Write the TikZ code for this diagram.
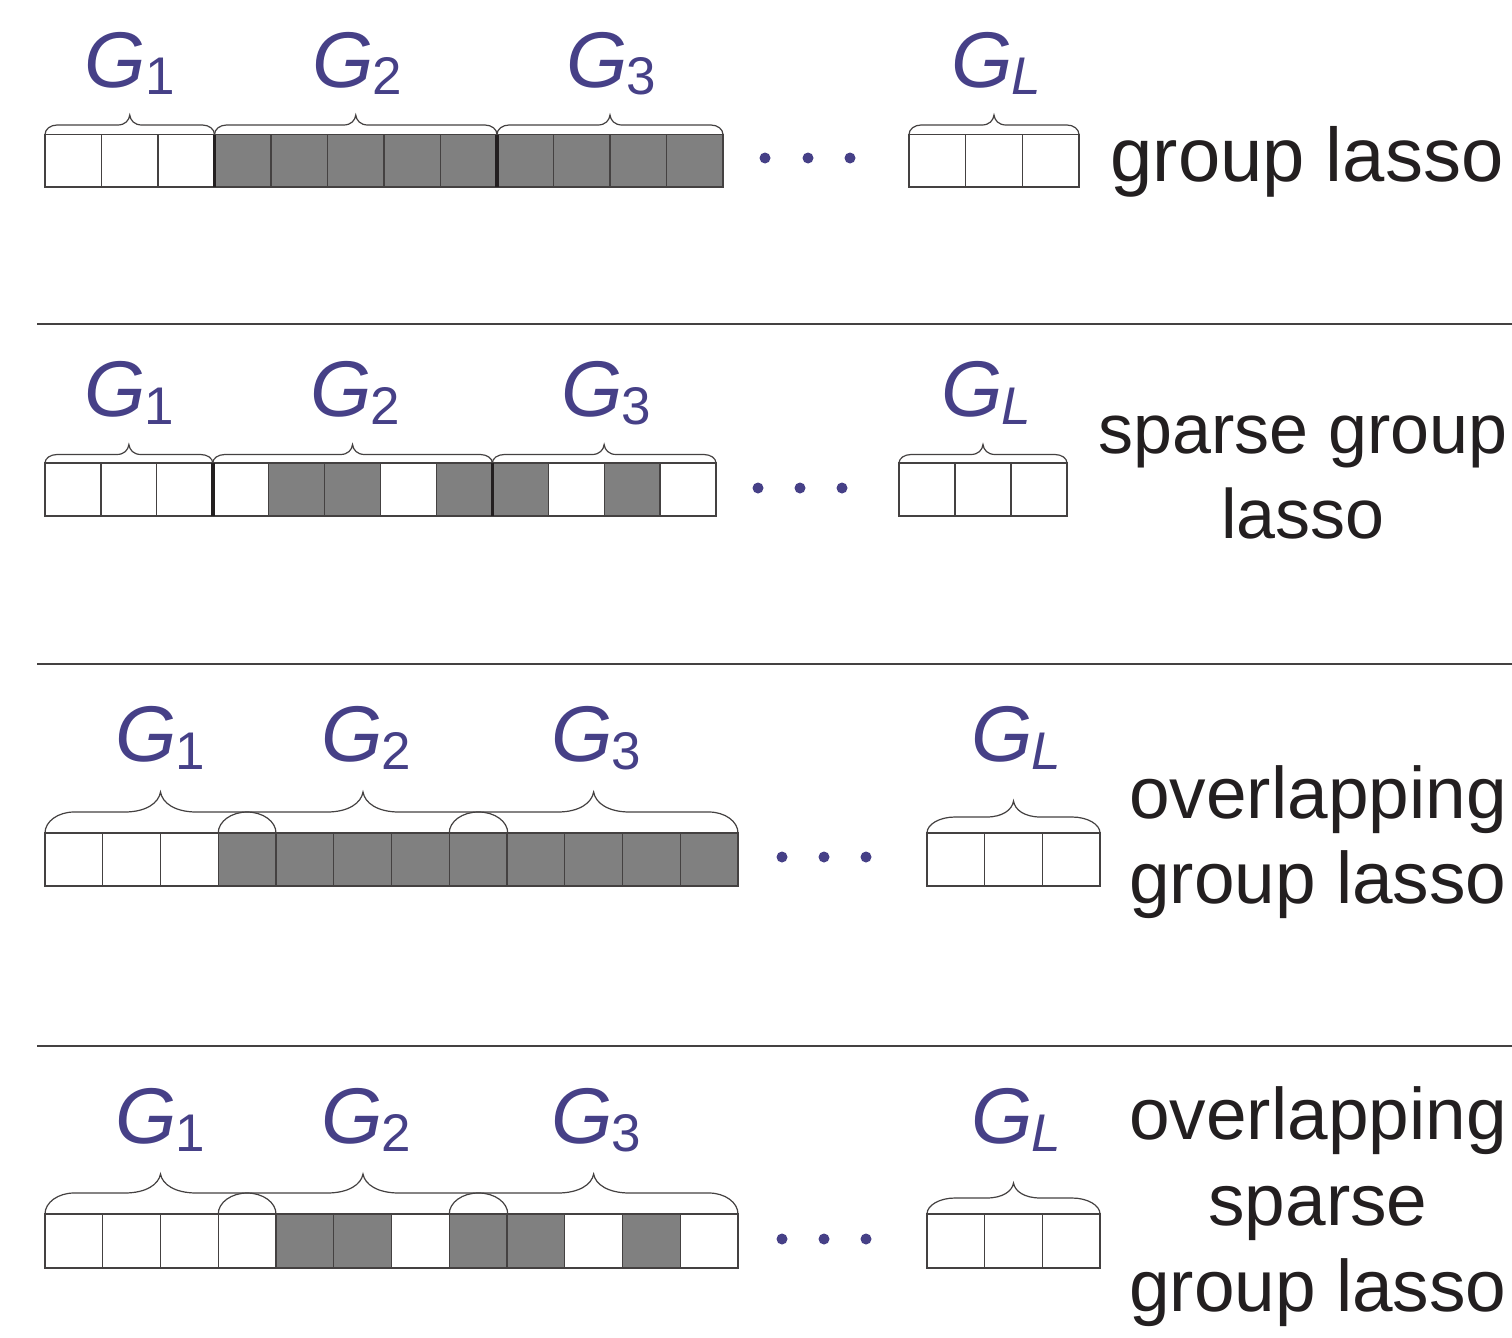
\documentclass[tikz,border=0pt]{standalone}
\usepackage{fontspec}
\setmainfont{Liberation Sans}
\definecolor{glab}{RGB}{70,64,135}
\definecolor{ink}{RGB}{35,31,32}
\definecolor{gfill}{RGB}{128,128,128}
\newcommand\Gl[1]{G\kern-1pt\raisebox{-8pt}{\fontsize{53}{53}\selectfont\upshape #1}}
\newcommand\mybrace[7]{%
  \pgfmathsetmacro\bxm{(#1+#2)/2}%
  \pgfmathsetmacro\bh{#3-#5}%
  \pgfmathsetmacro\bt{#3-#5-#7}%
  \draw[bracestyle] (#1,#3) .. controls (#1,#3-0.55*#5) and (#1+0.45*#4,\bh) .. (#1+#4,\bh)
    -- (\bxm-#6,\bh) .. controls (\bxm-0.4*#6,\bh) and (\bxm-0.05*#6,\bh-0.45*#7) .. (\bxm,\bt)
    .. controls (\bxm+0.05*#6,\bh-0.45*#7) and (\bxm+0.4*#6,\bh) .. (\bxm+#6,\bh)
    -- (#2-#4,\bh) .. controls (#2-0.45*#4,\bh) and (#2,#3-0.55*#5) .. (#2,#3);
}
\newcommand\cellrow[6]{%
  \foreach \i/\f in {#6} {
    \node[cell, fill=\f, minimum width=#3pt, minimum height={(#5-#4)*1pt}] (#1\i) at ({#2+#3*(\i+0.5)},{(#4+#5)/2}) {};
  }%
}
\begin{document}
\begin{tikzpicture}[x=1pt,y=-1pt,
  cell/.style={rectangle, draw=ink!85, line width=1.2pt, inner sep=0pt, outer sep=0pt},
  bracestyle/.style={draw=ink!85, line width=1.2pt},
  thickbar/.style={draw=ink, line width=3.5pt},
  rule/.style={draw=ink!85, line width=1.3pt},
  dot/.style={circle, fill=glab, inner sep=0pt, minimum size=11pt},
  glabel/.style={text=glab, anchor=base, inner sep=0pt, font=\fontsize{79}{79}\selectfont\itshape},
  methA/.style={text=ink, anchor=base, inner sep=0pt, font=\fontsize{76}{76}\selectfont},
  methB/.style={text=ink, anchor=base, inner sep=0pt, font=\fontsize{70}{70}\selectfont},
  methC/.style={text=ink, anchor=base, inner sep=0pt, font=\fontsize{73}{73}\selectfont}
]
\fill[white] (0,0) rectangle (1512,1338);
\useasboundingbox (0,0) rectangle (1512,1338);

% ---------- row 1: group lasso
\cellrow{ra}{45}{56.5}{134.5}{187}{0/white,1/white,2/white,3/gfill,4/gfill,5/gfill,6/gfill,7/gfill,8/gfill,9/gfill,10/gfill,11/gfill}
\cellrow{rae}{909}{56.67}{134.5}{187}{0/white,1/white,2/white}
\draw[thickbar] (ra2.north east) -- (ra2.south east);
\draw[thickbar] (ra7.north east) -- (ra7.south east);
\mybrace{45}{214.5}{134.5}{12}{9.5}{12}{10}
\mybrace{214.5}{497}{134.5}{12}{9.5}{12}{10}
\mybrace{497}{723}{134.5}{12}{9.5}{12}{10}
\mybrace{909}{1079}{134.5}{12}{9.5}{12}{10}
\node[glabel] (la1) at (129.75,87) {\Gl{1}};
\node[glabel] (la2) at (357,87) {\Gl{2}};
\node[glabel] (la3) at (611,87) {\Gl{3}};
\node[glabel] (laL) at (996,87) {\Gl{\itshape L}};
\foreach \k/\xx in {1/765,2/808,3/850} \node[dot] (da\k) at (\xx,158) {};
\node[methA] (ta) at (1307,181) {group lasso};

\draw[rule] (37,324) -- (1512,324);

% ---------- row 2: sparse group lasso
\cellrow{rb}{45}{55.917}{463}{516}{0/white,1/white,2/white,3/white,4/gfill,5/gfill,6/white,7/gfill,8/gfill,9/white,10/gfill,11/white}
\cellrow{rbe}{899}{56}{463}{516}{0/white,1/white,2/white}
\draw[thickbar] (rb2.north east) -- (rb2.south east);
\draw[thickbar] (rb7.north east) -- (rb7.south east);
\mybrace{45}{212.75}{463}{12}{8.5}{12}{10}
\mybrace{212.75}{492.3}{463}{12}{8.5}{12}{10}
\mybrace{492.3}{716}{463}{12}{8.5}{12}{10}
\mybrace{899}{1067}{463}{12}{8.5}{12}{10}
\node[glabel] (lb1) at (129,416) {\Gl{1}};
\node[glabel] (lb2) at (355,416) {\Gl{2}};
\node[glabel] (lb3) at (606,416) {\Gl{3}};
\node[glabel] (lbL) at (986,416) {\Gl{\itshape L}};
\foreach \k/\xx in {1/758,2/800,3/842} \node[dot] (db\k) at (\xx,488) {};
\node[methB] (tb1) at (1303,453) {sparse group};
\node[methB] (tb2) at (1303,538) {lasso};

\draw[rule] (37,664) -- (1512,664);

% ---------- row 3: overlapping group lasso
\cellrow{rc}{45}{57.75}{833}{886}{0/white,1/white,2/white,3/gfill,4/gfill,5/gfill,6/gfill,7/gfill,8/gfill,9/gfill,10/gfill,11/gfill}
\cellrow{rce}{927}{57.67}{833}{886}{0/white,1/white,2/white}
\mybrace{45}{276}{833}{29}{21}{36}{20}
\mybrace{218.25}{507.75}{833}{29}{21}{36}{20}
\mybrace{449.25}{738}{833}{29}{21}{36}{20}
\mybrace{927}{1100}{833}{28}{16}{27}{16}
\node[glabel] (lc1) at (160.5,761) {\Gl{1}};
\node[glabel] (lc2) at (366,761) {\Gl{2}};
\node[glabel] (lc3) at (596,761) {\Gl{3}};
\node[glabel] (lcL) at (1016,761) {\Gl{\itshape L}};
\foreach \k/\xx in {1/782,2/824,3/866} \node[dot] (dc\k) at (\xx,857) {};
\node[methC] (tc1) at (1318,818) {overlapping};
\node[methC] (tc2) at (1318,903) {group lasso};

\draw[rule] (37,1046) -- (1512,1046);

% ---------- row 4: overlapping sparse group lasso
\cellrow{rd}{45}{57.75}{1214}{1268}{0/white,1/white,2/white,3/white,4/gfill,5/gfill,6/white,7/gfill,8/gfill,9/white,10/gfill,11/white}
\cellrow{rde}{927}{57.67}{1214}{1268}{0/white,1/white,2/white}
\mybrace{45}{276}{1214}{29}{21}{36}{19}
\mybrace{218.25}{507.75}{1214}{29}{21}{36}{19}
\mybrace{449.25}{738}{1214}{29}{21}{36}{19}
\mybrace{927}{1100}{1214}{28}{16}{27}{15}
\node[glabel] (ld1) at (160.5,1143) {\Gl{1}};
\node[glabel] (ld2) at (366,1143) {\Gl{2}};
\node[glabel] (ld3) at (596,1143) {\Gl{3}};
\node[glabel] (ldL) at (1016,1143) {\Gl{\itshape L}};
\foreach \k/\xx in {1/782,2/824,3/866} \node[dot] (dd\k) at (\xx,1239) {};
\node[methC] (td1) at (1318,1139) {overlapping};
\node[methC] (td2) at (1318,1225) {sparse};
\node[methC] (td3) at (1318,1311) {group lasso};
\end{tikzpicture}
\end{document}
